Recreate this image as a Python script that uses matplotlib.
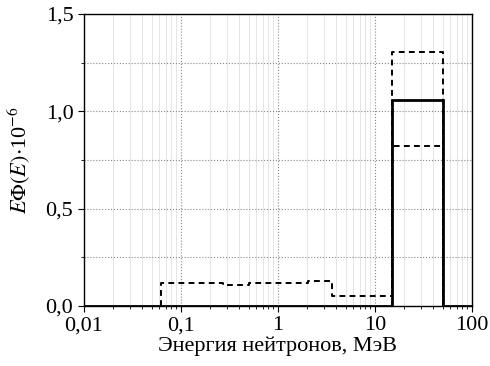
import numpy as np
import matplotlib
matplotlib.use('Agg')
import matplotlib.pyplot as plt
from matplotlib.ticker import FixedLocator, NullFormatter

plt.rcParams['font.family'] = ['Liberation Serif', 'DejaVu Serif']
plt.rcParams['mathtext.fontset'] = 'stix'

# step edges (MeV) and values
solid_edges = [0.01, 15, 50, 100]
solid_vals = [0.0, 1.06, 0.0]

upper_edges = [0.063, 0.27, 0.51, 2.04, 3.58, 15, 50]
upper_vals = [0.117, 0.109, 0.117, 0.128, 0.051, 1.305]

lower_edges = [15, 50]
lower_vals = [0.823]

xticks = [0.01, 0.1, 1, 10, 100]
xlabels = ['0,01', '0,1', '1', '10', '100']
yticks = [0.0, 0.5, 1.0, 1.5]
ylabels = ['0,0', '0,5', '1,0', '1,5']


def step_xy(edges, vals, close=True):
    xs, ys = [], []
    if close:
        xs.append(edges[0]); ys.append(0.0)
    for i, v in enumerate(vals):
        xs += [edges[i], edges[i + 1]]
        ys += [v, v]
    if close:
        xs.append(edges[-1]); ys.append(0.0)
    return xs, ys


fig = plt.figure(figsize=(4.9, 3.66), dpi=100)
ax = fig.add_axes([0.171, 0.164, 0.792, 0.798])

ax.set_xscale('log')
ax.set_xlim(0.01, 100)
ax.set_ylim(0, 1.5)

ax.xaxis.set_major_locator(FixedLocator(xticks))
ax.set_xticklabels(xlabels)
ax.xaxis.set_minor_locator(FixedLocator(
    [m * 10.0 ** e for e in range(-2, 2) for m in range(2, 10)]))
ax.xaxis.set_minor_formatter(NullFormatter())
ax.set_yticks(yticks)
ax.set_yticklabels(ylabels)
ax.yaxis.set_minor_locator(FixedLocator([0.25, 0.75, 1.25]))

ax.grid(which='major', axis='both', color='#888888', linestyle=':', linewidth=0.8)
ax.grid(which='minor', axis='x', color='#e0e0e0', linestyle='-', linewidth=0.6)
ax.grid(which='minor', axis='y', color='#888888', linestyle=':', linewidth=0.8)

dash = (0, (3, 2.2))
xs, ys = step_xy(upper_edges, upper_vals)
ax.plot(xs, ys, color='black', linestyle=dash, linewidth=1.4)
xs, ys = step_xy(lower_edges, lower_vals)
ax.plot(xs, ys, color='black', linestyle=dash, linewidth=1.4)
xs, ys = step_xy(solid_edges, solid_vals, close=False)
ax.plot(xs, ys, color='black', linewidth=2.0, solid_joinstyle='miter')

for s in ax.spines.values():
    s.set_linewidth(1.0)
ax.tick_params(which='major', direction='out', length=4, labelsize=16)
ax.tick_params(which='minor', direction='out', length=2.5)

ax.set_xlabel('Энергия нейтронов, МэВ', fontsize=16, labelpad=1)
ax.set_ylabel(r'$E\Phi(E)$$\cdot$10$^{-6}$', fontsize=16, labelpad=10)

fig.savefig('out.png', dpi=100)
